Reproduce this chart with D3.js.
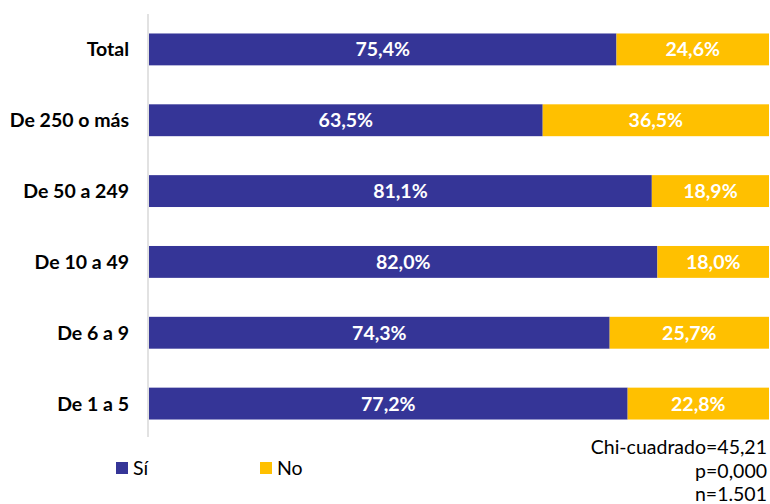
<!DOCTYPE html>
<html><head><meta charset="utf-8">
<script src="https://cdn.jsdelivr.net/npm/d3@7"></script>
<style>body{margin:0;background:#fff}svg{display:block}text{font-family:Lato,"Liberation Sans",sans-serif}</style>
</head><body>
<svg id="c" width="770" height="504"></svg>
<script>
const categories = ["Total","De 250 o más","De 50 a 249","De 10 a 49","De 6 a 9","De 1 a 5"];
const si = [75.4,63.5,81.1,82.0,74.3,77.2];
const no = [24.6,36.5,18.9,18.0,25.7,22.8];
const seriesNames = ["Sí","No"];
const colors = ["#353597","#FFC000"];
const stats = ["Chi-cuadrado=45,21","p=0,000","n=1.501"];

const FS = 19.5;
const svg = d3.select("#c");
const x = d3.scaleLinear().domain([0,100]).range([149,769]);
const y = d3.scaleBand().domain(categories).range([14,439]).paddingInner(0.55).paddingOuter(0.275);
const fmt = v => v.toFixed(1).replace(".", ",") + "%";

const data = categories.map((c,i)=>({c, vals:[si[i], no[i]]}));
data.forEach(d=>{
  let acc=0;
  d.vals.forEach((v,j)=>{
    const x0=acc, x1=acc+v; acc=x1;
    svg.append("rect").attr("x",x(x0)).attr("y",y(d.c)).attr("width",x(x1)-x(x0)).attr("height",y.bandwidth()).attr("fill",colors[j]);
    svg.append("text").attr("x",(x(x0)+x(x1))/2).attr("y",y(d.c)+y.bandwidth()/2).attr("dy","0.36em")
      .attr("text-anchor","middle").attr("fill","#fff").attr("font-weight","bold").attr("font-size",FS).text(fmt(v));
  });
});

// axis line
svg.append("line").attr("x1",148).attr("x2",148).attr("y1",14).attr("y2",437).attr("stroke","#d9d9d9").attr("stroke-width",1.5);
svg.selectAll(".cat").data(categories).enter().append("text")
  .attr("x",129).attr("y",d=>y(d)+y.bandwidth()/2).attr("dy","0.36em").attr("text-anchor","end")
  .attr("font-weight","bold").attr("font-size",FS).attr("fill","#000").text(d=>d);

// legend
const lx=[116,260];
seriesNames.forEach((n,i)=>{
  svg.append("rect").attr("x",lx[i]).attr("y",462).attr("width",12).attr("height",12).attr("fill",colors[i]);
  svg.append("text").attr("x",lx[i]+17).attr("y",468).attr("dy","0.36em").attr("font-size",FS).attr("fill","#000").text(n);
});
stats.forEach((s,i)=>{
  svg.append("text").attr("x",767).attr("y",447+i*23.5).attr("dy","0.36em").attr("text-anchor","end").attr("font-size",FS).attr("fill","#000").text(s);
});
</script>
</body></html>
